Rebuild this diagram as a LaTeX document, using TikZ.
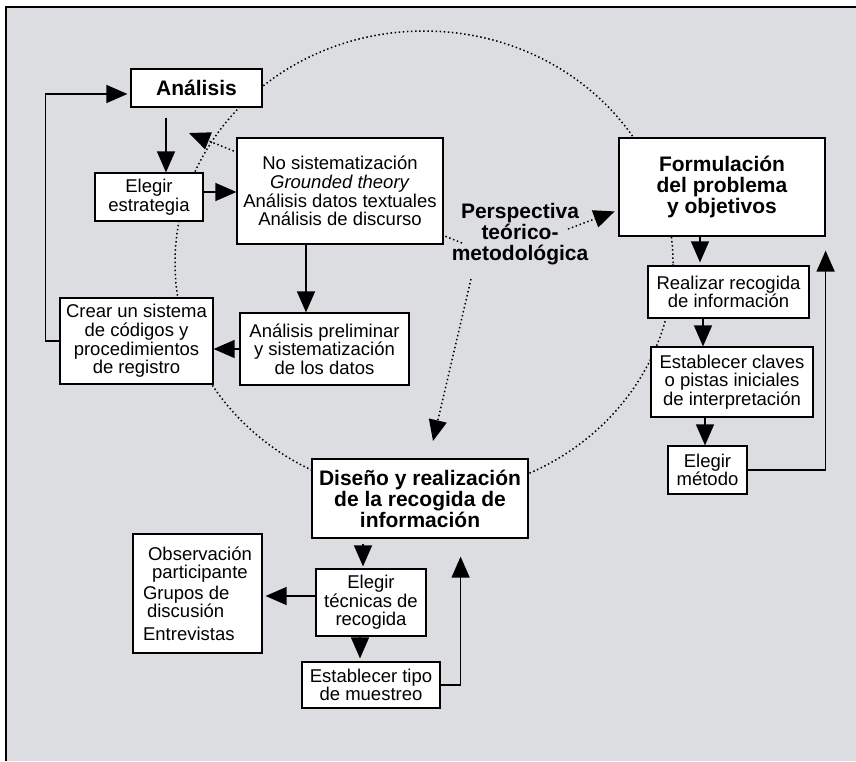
\documentclass[tikz,border=0pt]{standalone}
\usepackage{fontspec}
\setmainfont{Liberation Sans}
\usetikzlibrary{positioning,arrows.meta,calc}
\definecolor{panel}{RGB}{220,221,224}
\newcommand{\txt}{\fontsize{18.5}{18.6}\selectfont}
\newcommand{\ttl}{\fontsize{21}{21}\selectfont\bfseries}
\tikzset{
  stepbox/.style  = {shape=rectangle, draw, fill=white, line width=1.2pt,
                     align=center, inner sep=0pt, font=\txt},
  stagebox/.style = {stepbox, font=\ttl},
  flow/.style     = {->, line width=1.4pt},
  hint/.style     = {line width=1.5pt, dash pattern=on 1.5pt off 2.6pt}
}

\begin{document}
\begin{tikzpicture}[>={Triangle[length=21pt,width=18pt]}, x=1pt, y=-1pt]
\useasboundingbox (0,0) rectangle (856,761);
\fill[panel] (6,7) rectangle (856,761);
\draw[line width=1.4pt] (6,761) -- (6,7) -- (856,7);

\draw[hint] (424,263) ellipse [x radius=249pt, y radius=232pt];
\coordinate (p-ana) at (462,243);
\coordinate (q-ana) at (189,133);
\draw[hint,->] (p-ana) -- (q-ana);

\node[stagebox, minimum width=131pt, minimum height=38pt] (ana) at (196.5,88) {Análisis};
\node[stepbox, minimum width=108pt, minimum height=48pt] (estr) at (149,197) {Elegir\\estrategia};
\node[stepbox, minimum width=206pt, minimum height=106pt] (nosis) at (340,191)
  {No sistematización\\\textit{Grounded theory}\\Análisis datos textuales\\Análisis de discurso};
\node[stepbox, minimum width=153pt, minimum height=86pt] (crear) at (136.5,341)
  {Crear un sistema\\de códigos y\\procedimientos\\de registro};
\node[stepbox, minimum width=169pt, minimum height=72pt] (prelim) at (324.5,349)
  {Análisis preliminar\\y sistematización\\de los datos};

\node[stagebox, minimum width=206pt, minimum height=98pt] (form) at (722,187)
  {Formulación\\del problema\\y objetivos};
\node[stepbox, minimum width=161pt, minimum height=52pt] (real) at (728.5,292)
  {Realizar recogida\\de información};
\node[stepbox, minimum width=162pt, minimum height=70pt] (claves) at (732,382)
  {Establecer claves\\o pistas iniciales\\de interpretación};
\node[stepbox, minimum width=79pt, minimum height=48pt] (metodo) at (707.5,470) {Elegir\\método};

\node[stagebox, minimum width=216pt, minimum height=79pt] (dis) at (420,498.5)
  {Diseño y realización\\de la recogida de\\información};
\node[stepbox, align=left, minimum width=129pt, minimum height=119pt] (obs) at (197.5,593.5)
  {\hspace*{5pt}Observación\\\hspace*{9pt}participante\\[2pt]Grupos de\\\hspace*{4pt}discusión\\[4pt]Entrevistas};
\node[stepbox, minimum width=110pt, minimum height=67pt] (tec) at (371,602.5)
  {Elegir\\técnicas de\\recogida};
\node[stepbox, minimum width=138pt, minimum height=46pt] (tipo) at (371,685)
  {Establecer tipo\\de muestreo};

\node[font=\ttl, align=center] (persp) at (520,234) {Perspectiva\\teórico-\\metodológica};

\coordinate (p-form) at (568,229);
\coordinate (p-dis) at (471,279);
\coordinate (q-dis) at (433,441);
\draw[hint,->,shorten >=4pt] (p-form) -- ([yshift=-23pt]form.west);
\draw[hint,->] (p-dis) -- (q-dis);

\draw[flow, shorten <=10pt] ([xshift=17pt]estr.north |- ana.south) -- ([xshift=17pt]estr.north);
\draw[flow] ([yshift=5pt]estr.east) -- ([yshift=5pt]estr.east -| nosis.west);
\draw[flow] ([xshift=-34pt]nosis.south) -- ([xshift=-34pt]nosis.south |- prelim.north);
\draw[flow] (prelim.west) -- (prelim.west -| crear.east);
\draw[flow, shorten >=3pt] (crear.west) -- ++(-14,0) |- ([yshift=-6pt]ana.west);

\draw[flow, shorten >=3pt] ([xshift=-22pt]form.south) -- ([xshift=-22pt]form.south |- real.north);
\draw[flow] ([xshift=-25.5pt]real.south) -- ([xshift=-25.5pt]real.south |- claves.north);
\draw[flow] ([xshift=-27pt]claves.south) -- ([xshift=-27pt]claves.south |- metodo.north);
\draw[flow] (metodo.east) -| ([yshift=-14pt]form.south east);

\draw[flow, shorten <=5pt, shorten >=2pt] ([xshift=-8pt]tec.north |- dis.south) -- ([xshift=-8pt]tec.north);
\draw[flow, shorten >=3pt] ([yshift=6.5pt]tec.west) -- ([yshift=6.5pt]tec.west -| obs.east);
\draw[flow, shorten >=3pt] ([xshift=-11pt]tec.south) -- ([xshift=-11pt]tec.south |- tipo.north);
\draw[flow] (tipo.east) -| ([xshift=-68pt,yshift=-18pt]dis.south east);
\end{tikzpicture}
\end{document}
